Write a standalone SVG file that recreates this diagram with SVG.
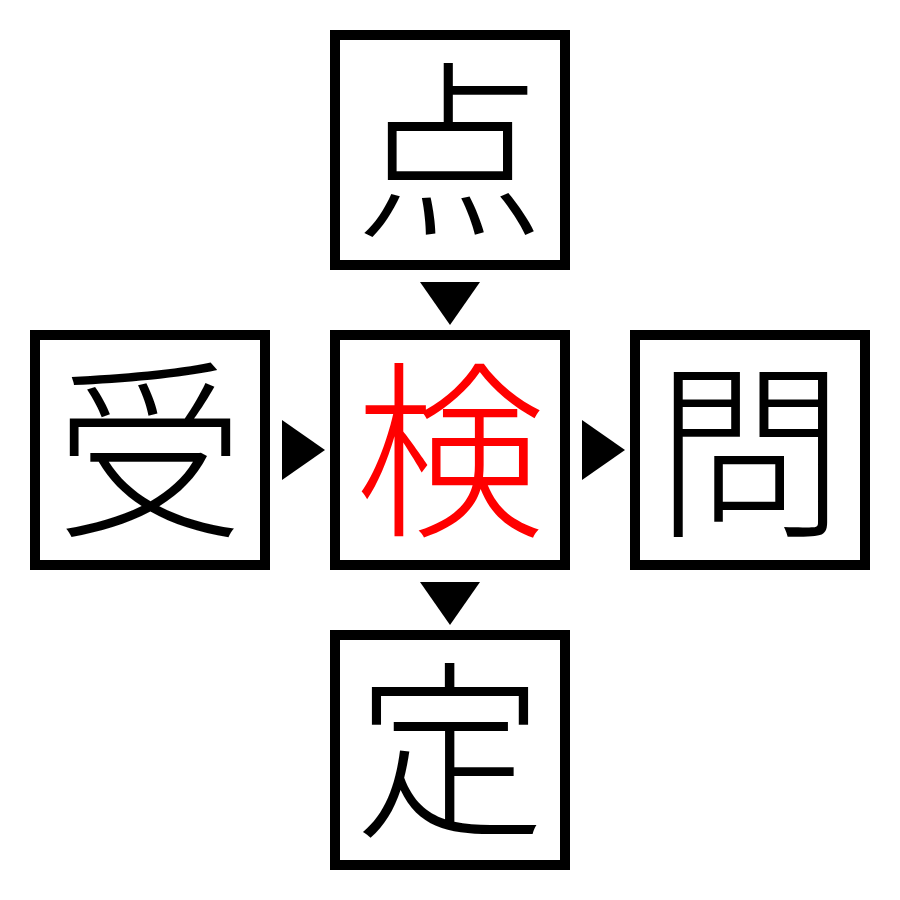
<svg xmlns="http://www.w3.org/2000/svg" width="900" height="900" viewBox="0 0 900 900">
<style>
.box{fill:#fff;stroke:#000;stroke-width:10}
.k{font-family:"Noto Sans CJK JP","Noto Sans CJK SC",sans-serif;font-size:190px;text-anchor:middle;fill:#000;font-weight:300}
.red{fill:#ff0000}
.arr{fill:#000}
</style>
<rect width="900" height="900" fill="#fff"/>
<g id="node-top"><rect class="box" x="335" y="35" width="230" height="230"/><text class="k" x="450" y="222">点</text></g>
<g id="node-left"><rect class="box" x="35" y="335" width="230" height="230"/><text class="k" x="150" y="522">受</text></g>
<g id="node-center"><rect class="box" x="335" y="335" width="230" height="230"/><text class="k red" x="450" y="522">検</text></g>
<g id="node-right"><rect class="box" x="635" y="335" width="230" height="230"/><text class="k" x="750" y="522">問</text></g>
<g id="node-bottom"><rect class="box" x="335" y="635" width="230" height="230"/><text class="k" x="450" y="822">定</text></g>
<g id="connectors">
<polygon class="arr" points="420,282 480,282 450,325"/>
<polygon class="arr" points="282,420 282,480 325,450"/>
<polygon class="arr" points="582,420 582,480 625,450"/>
<polygon class="arr" points="420,582 480,582 450,625"/>
</g>
</svg>
